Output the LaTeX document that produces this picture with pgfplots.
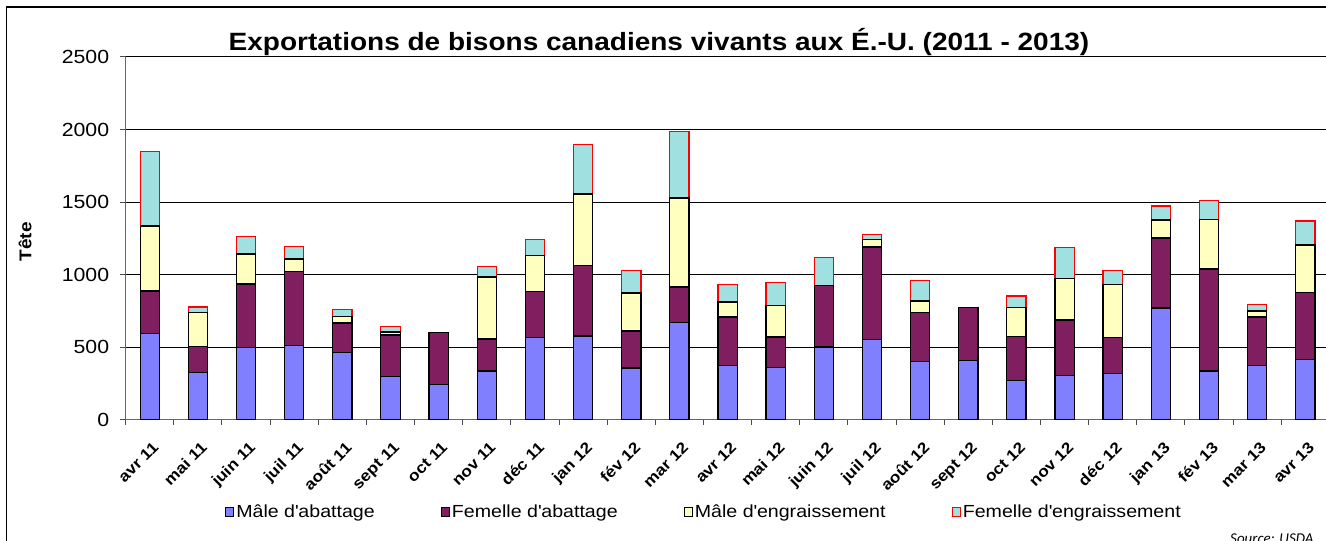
\documentclass[border=0pt]{standalone}
\usepackage{fontspec}
\setmainfont{Liberation Sans}[FakeStretch=1.12]
\newfontfamily\carlito{Carlito}
\usepackage{pgfplots}
\pgfplotsset{compat=1.18}
\usepackage{pgfplotstable}
\definecolor{cblue}{HTML}{8080FF}
\definecolor{cpurple}{HTML}{7F1F5F}
\definecolor{cyellow}{HTML}{FFFFC0}
\definecolor{ccyan}{HTML}{A0E0E0}
\definecolor{cred}{HTML}{FF0000}
\pgfplotstableread{
x blue purple yellow cyan
0 593 294 448 512
1 324 179 237 37
2 499 436 207 119
3 510 513 84 85
4 462 204 46 46
5 296 288 20 40
6 241 361 0 0
7 336 220 427 74
8 568 314 251 110
9 577 484 494 340
10 356 255 262 157
11 671 244 613 460
12 375 333 103 119
13 358 212 216 158
14 501 423 0 193
15 551 639 51 34
16 400 340 78 140
17 407 368 0 0
18 271 301 200 81
19 303 384 287 211
20 320 248 365 97
21 770 482 124 97
22 336 703 342 131
23 372 336 41 46
24 414 464 326 165
}\data
\begin{document}
\begin{tikzpicture}
\path[use as bounding box, clip] (0pt,0pt) rectangle (1326pt,541pt);
\draw[black, line width=1.2pt] (6.5pt,-5pt) -- (6.5pt,534pt) -- (1340pt,534pt);
\begin{axis}[
  at={(125.7pt,121.3pt)}, anchor=south west,
  scale only axis, width=1203.7pt, height=362.75pt,
  xmin=-0.5, xmax=24.5, ymin=0, ymax=2500,
  ybar stacked, bar width=19.3pt,
  axis x line*=bottom, axis y line*=left,
  axis line style={draw=black!60, line width=1.2pt},
  ymajorgrids, major grid style={black, line width=0.9pt},
  ytick={0,500,...,2500},
  xtick={0,...,24},
  minor xtick={-0.5,0.5,...,24.5},
  tick align=outside, major tick length=6pt, minor tick length=5pt,
  major x tick style={draw=none},
  minor x tick style={black!70, line width=1pt},
  ytick style={black!70, line width=1pt},
  /pgf/number format/assume math mode=true,
  /pgf/number format/1000 sep={},
  yticklabel style={font=\fontsize{19}{20}\selectfont, xshift=-7pt},
  xticklabels={avr 11, mai 11, juin 11, juil 11, août 11, sept 11, oct 11, nov 11, déc 11, jan 12, fév 12, mar 12, avr 12, mai 12, juin 12, juil 12, août 12, sept 12, oct 12, nov 12, déc 12, jan 13, fév 13, mar 13, avr 13},
  xticklabel style={font=\bfseries\fontsize{15.5}{17}\selectfont, rotate=45, anchor=north east, inner sep=1pt, xshift=-8pt, yshift=-11pt},
  legend columns=4,
  legend style={at={(0.4804,-0.2544)}, anchor=center, draw=none, fill=none,
    font=\fontsize{17.5}{20}\selectfont,
    /tikz/every even column/.append style={column sep=64pt},
    /tikz/every odd column/.append style={column sep=0pt}},
  legend cell align=left,
  legend image code/.code={\draw[#1] (0pt,-4.5pt) rectangle (8pt,4.5pt);},
]
\addplot[fill=cblue, draw=black, line width=1.2pt] table[x=x, y=blue] {\data};
\addlegendentry{Mâle d\textquotesingle abattage}
\addplot[fill=cpurple, draw=black, line width=1.2pt] table[x=x, y=purple] {\data};
\addlegendentry{Femelle d\textquotesingle abattage}
\addplot[fill=cyellow, draw=black, line width=1.2pt] table[x=x, y=yellow] {\data};
\addlegendentry{Mâle d\textquotesingle engraissement}
\addplot[fill=ccyan, draw=cred, line width=1.2pt] table[x=x, y=cyan] {\data};
\addlegendentry{Femelle d\textquotesingle engraissement}
\end{axis}
\node[font=\bfseries\fontsize{25}{30}\selectfont] at (659pt, 499pt) {Exportations de bisons canadiens vivants aux É.-U. (2011 - 2013)};
\node[font=\bfseries\fontsize{17}{20}\selectfont, rotate=90] at (25pt, 299.3pt) {Tête};
\node[anchor=base east, font=\carlito\itshape\fontsize{15}{17}\selectfont] at (1317pt, -3pt) {Source: USDA};
\end{tikzpicture}
\end{document}
